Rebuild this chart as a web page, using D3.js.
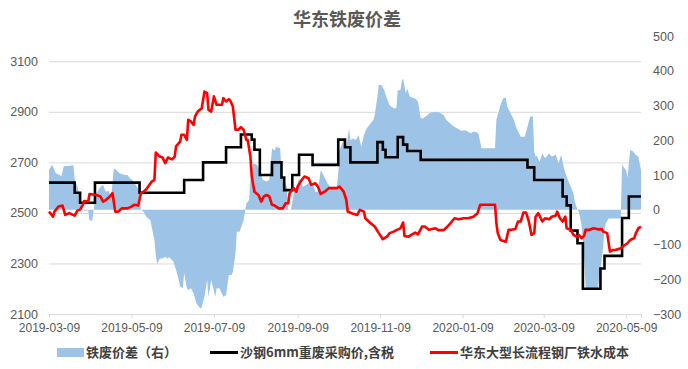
<!DOCTYPE html>
<html>
<head>
<meta charset="utf-8">
<script src="https://cdn.jsdelivr.net/npm/d3@7"></script>
<style>
    body { margin: 0; background: #fff; }
    svg { display: block; }
</style>
</head>
<body>
<svg id="chart" width="688" height="369"></svg>
<script>
// Chart text
const chartTitle = "华东铁废价差";
const legendLabels = ["铁废价差（右）", "沙钢6mm重废采购价,含税", "华东大型长流程钢厂铁水成本"];
const xTickLabels = ["2019-03-09", "2019-05-09", "2019-07-09", "2019-09-09", "2019-11-09", "2020-01-09", "2020-03-09", "2020-05-09"];
const leftTicks = [2100, 2300, 2500, 2700, 2900, 3100];
const rightTicks = [-300, -200, -100, 0, 100, 200, 300, 400, 500];
const xDomain = ["2019-03-09", "2020-05-20"];

// 铁废价差 (right axis)
const spread = [
    ["2019-03-09", 114], ["2019-03-11", 129], ["2019-03-12", 124], ["2019-03-14", 105], ["2019-03-17", 100],
    ["2019-03-18", 95], ["2019-03-20", 126], ["2019-03-24", 126], ["2019-03-27", 129], ["2019-03-28", 86],
    ["2019-03-30", 66], ["2019-04-01", 37], ["2019-04-02", 4], ["2019-04-04", -3], ["2019-04-07", -2],
    ["2019-04-08", -31], ["2019-04-10", -31], ["2019-04-12", 28], ["2019-04-13", 47], ["2019-04-16", 66],
    ["2019-04-18", 71], ["2019-04-20", 52], ["2019-04-22", 55], ["2019-04-24", 37], ["2019-04-26", 119],
    ["2019-04-28", 114], ["2019-04-30", 105], ["2019-05-04", 100], ["2019-05-06", 100], ["2019-05-08", 90],
    ["2019-05-10", 85], ["2019-05-13", 66], ["2019-05-15", 57], ["2019-05-16", 0], ["2019-05-18", -6],
    ["2019-05-20", -20], ["2019-05-23", -30], ["2019-05-24", -49], ["2019-05-26", -87], ["2019-05-27", -130],
    ["2019-05-28", -156], ["2019-05-30", -140], ["2019-06-01", -140], ["2019-06-03", -135], ["2019-06-04", -140],
    ["2019-06-06", -137], ["2019-06-09", -149], ["2019-06-11", -173], ["2019-06-13", -202], ["2019-06-14", -221],
    ["2019-06-16", -226], ["2019-06-17", -183], ["2019-06-19", -226], ["2019-06-20", -231], ["2019-06-22", -226],
    ["2019-06-24", -240], ["2019-06-26", -269], ["2019-06-29", -284], ["2019-06-30", -280], ["2019-07-02", -250],
    ["2019-07-04", -202], ["2019-07-05", -250], ["2019-07-07", -202], ["2019-07-08", -217], ["2019-07-10", -250],
    ["2019-07-11", -226], ["2019-07-13", -226], ["2019-07-16", -250], ["2019-07-18", -245], ["2019-07-20", -188],
    ["2019-07-22", -188], ["2019-07-23", -180], ["2019-07-25", -125], ["2019-07-26", -63], ["2019-07-28", -63],
    ["2019-07-31", -30], ["2019-08-02", 18], ["2019-08-04", 28], ["2019-08-05", 86], ["2019-08-07", 134],
    ["2019-08-10", 129], ["2019-08-12", 114], ["2019-08-14", 86], ["2019-08-17", 81], ["2019-08-19", 86],
    ["2019-08-21", 177], ["2019-08-23", 170], ["2019-08-24", 181], ["2019-08-27", 177], ["2019-08-28", 114],
    ["2019-08-29", 95], ["2019-09-01", 66], ["2019-09-02", 0], ["2019-09-04", 0], ["2019-09-06", 47],
    ["2019-09-08", 66], ["2019-09-10", 90], ["2019-09-13", 66], ["2019-09-17", 76], ["2019-09-20", 76],
    ["2019-09-22", 52], ["2019-09-24", 52], ["2019-09-26", 114], ["2019-09-28", 100], ["2019-10-01", 76],
    ["2019-10-03", 66], ["2019-10-08", 66], ["2019-10-09", 105], ["2019-10-10", 172], ["2019-10-13", 201],
    ["2019-10-15", 181], ["2019-10-17", 234], ["2019-10-18", 201], ["2019-10-20", 205], ["2019-10-22", 201],
    ["2019-10-24", 215], ["2019-10-26", 181], ["2019-10-28", 215], ["2019-10-30", 234], ["2019-11-01", 244],
    ["2019-11-04", 258], ["2019-11-05", 273], ["2019-11-07", 325], ["2019-11-08", 359], ["2019-11-10", 359],
    ["2019-11-12", 344], ["2019-11-14", 320], ["2019-11-16", 301], ["2019-11-19", 292], ["2019-11-21", 292],
    ["2019-11-22", 344], ["2019-11-24", 344], ["2019-11-25", 369], ["2019-11-26", 378], ["2019-11-28", 335],
    ["2019-11-29", 349], ["2019-12-01", 325], ["2019-12-05", 320], ["2019-12-07", 311], ["2019-12-09", 263],
    ["2019-12-11", 263], ["2019-12-14", 273], ["2019-12-16", 279], ["2019-12-20", 282], ["2019-12-23", 280],
    ["2019-12-26", 273], ["2019-12-28", 258], ["2020-01-01", 244], ["2020-01-05", 234], ["2020-01-08", 227],
    ["2020-01-11", 229], ["2020-01-15", 220], ["2020-01-17", 225], ["2020-01-20", 222], ["2020-01-21", 215],
    ["2020-01-23", 177], ["2020-02-02", 177], ["2020-02-03", 258], ["2020-02-06", 301], ["2020-02-08", 320],
    ["2020-02-10", 323], ["2020-02-11", 297], ["2020-02-13", 282], ["2020-02-16", 258], ["2020-02-18", 234],
    ["2020-02-21", 210], ["2020-02-24", 210], ["2020-02-26", 239], ["2020-02-28", 268], ["2020-03-01", 268],
    ["2020-03-02", 167], ["2020-03-03", 153], ["2020-03-04", 155], ["2020-03-06", 138], ["2020-03-08", 162],
    ["2020-03-10", 148], ["2020-03-13", 162], ["2020-03-15", 153], ["2020-03-18", 158], ["2020-03-20", 134],
    ["2020-03-22", 158], ["2020-03-24", 119], ["2020-03-26", 95], ["2020-03-29", 66], ["2020-03-31", 47],
    ["2020-04-01", 23], ["2020-04-03", 0], ["2020-04-04", -6], ["2020-04-06", -44], ["2020-04-08", -145],
    ["2020-04-09", -221], ["2020-04-10", -231], ["2020-04-18", -231], ["2020-04-20", -173], ["2020-04-22", -106],
    ["2020-04-23", -58], ["2020-04-24", -39], ["2020-04-26", -25], ["2020-05-05", -25], ["2020-05-06", 129],
    ["2020-05-09", 114], ["2020-05-10", 92], ["2020-05-12", 172], ["2020-05-14", 168], ["2020-05-16", 158],
    ["2020-05-18", 153], ["2020-05-20", 114]
];

// 沙钢6mm重废采购价,含税 (left axis, step changes)
const scrapPrice = [
    ["2019-03-09", 2620], ["2019-03-28", 2580], ["2019-04-01", 2540], ["2019-04-12", 2620], ["2019-05-15", 2580],
    ["2019-06-17", 2630], ["2019-07-01", 2700], ["2019-07-18", 2760], ["2019-07-29", 2810], ["2019-08-06", 2790],
    ["2019-08-08", 2750], ["2019-08-12", 2650], ["2019-08-21", 2700], ["2019-08-28", 2640], ["2019-08-30", 2590],
    ["2019-09-05", 2650], ["2019-09-10", 2730], ["2019-09-20", 2690], ["2019-10-09", 2790], ["2019-10-14", 2760],
    ["2019-10-18", 2700], ["2019-11-07", 2780], ["2019-11-11", 2750], ["2019-11-13", 2720], ["2019-11-22", 2800],
    ["2019-11-26", 2770], ["2019-11-29", 2745], ["2019-12-09", 2710], ["2020-02-26", 2680], ["2020-03-02", 2630],
    ["2020-03-23", 2565], ["2020-03-26", 2530], ["2020-03-29", 2430], ["2020-04-03", 2380], ["2020-04-07", 2200],
    ["2020-04-20", 2280], ["2020-04-23", 2330], ["2020-05-06", 2480], ["2020-05-11", 2565], ["2020-05-20", 2565]
];

// 华东大型长流程钢厂铁水成本 (left axis)
const hotMetalCost = [
    ["2019-03-09", 2505], ["2019-03-12", 2485], ["2019-03-13", 2505], ["2019-03-16", 2525], ["2019-03-19", 2529],
    ["2019-03-21", 2492], ["2019-03-24", 2499], ["2019-03-28", 2489], ["2019-03-30", 2509], ["2019-04-01", 2513],
    ["2019-04-03", 2532], ["2019-04-04", 2547], ["2019-04-07", 2545], ["2019-04-08", 2575], ["2019-04-13", 2571],
    ["2019-04-16", 2565], ["2019-04-18", 2545], ["2019-04-20", 2551], ["2019-04-23", 2565], ["2019-04-25", 2578],
    ["2019-04-27", 2505], ["2019-04-29", 2505], ["2019-05-02", 2518], ["2019-05-06", 2518], ["2019-05-09", 2525],
    ["2019-05-11", 2532], ["2019-05-14", 2529], ["2019-05-16", 2578], ["2019-05-18", 2584], ["2019-05-20", 2594],
    ["2019-05-24", 2624], ["2019-05-26", 2631], ["2019-05-27", 2739], ["2019-05-30", 2723], ["2019-06-01", 2719],
    ["2019-06-03", 2697], ["2019-06-05", 2719], ["2019-06-08", 2712], ["2019-06-10", 2723], ["2019-06-11", 2763],
    ["2019-06-14", 2782], ["2019-06-15", 2809], ["2019-06-17", 2809], ["2019-06-19", 2789], ["2019-06-20", 2868],
    ["2019-06-22", 2862], ["2019-06-24", 2848], ["2019-06-25", 2881], ["2019-06-27", 2901], ["2019-06-30", 2914],
    ["2019-07-02", 2980], ["2019-07-04", 2974], ["2019-07-05", 2908], ["2019-07-07", 2901], ["2019-07-09", 2961],
    ["2019-07-11", 2928], ["2019-07-15", 2928], ["2019-07-16", 2954], ["2019-07-18", 2941], ["2019-07-20", 2950],
    ["2019-07-21", 2946], ["2019-07-23", 2921], ["2019-07-25", 2829], ["2019-07-27", 2829], ["2019-07-29", 2839],
    ["2019-07-31", 2829], ["2019-08-02", 2789], ["2019-08-03", 2789], ["2019-08-05", 2723], ["2019-08-06", 2644],
    ["2019-08-08", 2584], ["2019-08-11", 2571], ["2019-08-13", 2545], ["2019-08-15", 2565], ["2019-08-17", 2571],
    ["2019-08-19", 2565], ["2019-08-21", 2532], ["2019-08-23", 2529], ["2019-08-26", 2518], ["2019-08-29", 2518],
    ["2019-08-31", 2538], ["2019-09-02", 2538], ["2019-09-03", 2578], ["2019-09-06", 2598], ["2019-09-08", 2584],
    ["2019-09-09", 2604], ["2019-09-12", 2631], ["2019-09-14", 2644], ["2019-09-17", 2637], ["2019-09-19", 2611],
    ["2019-09-22", 2617], ["2019-09-24", 2604], ["2019-09-26", 2575], ["2019-09-29", 2584], ["2019-10-02", 2598],
    ["2019-10-08", 2598], ["2019-10-10", 2604], ["2019-10-13", 2584], ["2019-10-15", 2551], ["2019-10-16", 2505],
    ["2019-10-19", 2499], ["2019-10-23", 2492], ["2019-10-25", 2512], ["2019-10-28", 2505], ["2019-10-29", 2479],
    ["2019-11-02", 2459], ["2019-11-05", 2446], ["2019-11-08", 2420], ["2019-11-11", 2396], ["2019-11-14", 2406],
    ["2019-11-16", 2420], ["2019-11-19", 2426], ["2019-11-21", 2432], ["2019-11-24", 2439], ["2019-11-26", 2462],
    ["2019-11-27", 2409], ["2019-11-30", 2406], ["2019-12-02", 2413], ["2019-12-05", 2422], ["2019-12-07", 2415],
    ["2019-12-10", 2446], ["2019-12-12", 2446], ["2019-12-15", 2433], ["2019-12-20", 2439], ["2019-12-22", 2432],
    ["2019-12-26", 2432], ["2019-12-28", 2442], ["2019-12-31", 2459], ["2020-01-03", 2479], ["2020-01-06", 2475],
    ["2020-01-10", 2479], ["2020-01-13", 2479], ["2020-01-17", 2485], ["2020-01-20", 2499], ["2020-01-22", 2532],
    ["2020-02-02", 2532], ["2020-02-03", 2460], ["2020-02-04", 2420], ["2020-02-06", 2393], ["2020-02-10", 2386],
    ["2020-02-12", 2433], ["2020-02-14", 2433], ["2020-02-17", 2436], ["2020-02-19", 2466], ["2020-02-21", 2466],
    ["2020-02-23", 2501], ["2020-02-25", 2501], ["2020-02-27", 2466], ["2020-02-29", 2413], ["2020-03-02", 2420],
    ["2020-03-03", 2485], ["2020-03-05", 2499], ["2020-03-08", 2466], ["2020-03-10", 2479], ["2020-03-13", 2475],
    ["2020-03-15", 2485], ["2020-03-18", 2490], ["2020-03-19", 2505], ["2020-03-21", 2479], ["2020-03-23", 2466],
    ["2020-03-25", 2485], ["2020-03-26", 2439], ["2020-03-29", 2433], ["2020-03-31", 2413], ["2020-04-03", 2404],
    ["2020-04-04", 2413], ["2020-04-06", 2400], ["2020-04-08", 2410], ["2020-04-09", 2433], ["2020-04-12", 2433],
    ["2020-04-15", 2439], ["2020-04-18", 2435], ["2020-04-21", 2436], ["2020-04-22", 2426], ["2020-04-25", 2420],
    ["2020-04-27", 2347], ["2020-04-29", 2353], ["2020-05-01", 2353], ["2020-05-05", 2360], ["2020-05-07", 2369],
    ["2020-05-10", 2380], ["2020-05-12", 2393], ["2020-05-15", 2400], ["2020-05-16", 2417], ["2020-05-18", 2439],
    ["2020-05-20", 2446]
];

class spreadChart {

    constructor(parentElement) {
        this.parentElement = parentElement;
        this.initVis();
    }

    initVis() {
        let vis = this;
        let parse = d3.utcParse("%Y-%m-%d");

        vis.margin = {top: 36, right: 47, bottom: 55, left: 49};
        vis.width = 688 - vis.margin.left - vis.margin.right;
        vis.height = 369 - vis.margin.top - vis.margin.bottom;

        vis.svg = d3.select("#" + vis.parentElement);
        vis.g = vis.svg.append("g")
            .attr("transform", `translate(${vis.margin.left}, ${vis.margin.top})`);

        vis.x = d3.scaleUtc()
            .domain(xDomain.map(parse))
            .range([0, vis.width]);
        vis.yLeft = d3.scaleLinear()
            .domain([2100, 3200])
            .range([vis.height, 0]);
        vis.yRight = d3.scaleLinear()
            .domain([-300, 500])
            .range([vis.height, 0]);

        vis.spread = spread.map(d => ({date: parse(d[0]), value: d[1]}));
        vis.scrap = scrapPrice.map(d => ({date: parse(d[0]), value: d[1]}));
        vis.cost = hotMetalCost.map(d => ({date: parse(d[0]), value: d[1]}));

        let font = "'Noto Sans CJK SC', 'Microsoft YaHei', sans-serif";
        let tickFont = "'Liberation Sans', Arial, sans-serif";

        // Title
        vis.svg.append("text")
            .text(chartTitle)
            .attr("x", 347)
            .attr("y", 26)
            .attr("text-anchor", "middle")
            .attr("font-family", font)
            .attr("font-weight", "bold")
            .attr("font-size", "18px")
            .attr("fill", "#595959");

        // Gridlines (left axis)
        vis.g.append("g")
            .attr("class", "grid")
            .call(d3.axisLeft(vis.yLeft).tickValues(leftTicks).tickSize(-vis.width).tickFormat(""))
            .call(g => g.select(".domain").remove())
            .call(g => g.selectAll("line").attr("stroke", "#d9d9d9").attr("stroke-width", 1));

        // Left labels
        vis.g.append("g")
            .call(d3.axisLeft(vis.yLeft).tickValues(leftTicks).tickSize(0).tickPadding(11).tickFormat(d3.format("d")))
            .call(g => g.select(".domain").remove())
            .call(g => g.selectAll("text")
                .attr("font-family", tickFont)
                .attr("font-size", "12.5px")
                .attr("fill", "#595959"));

        // Right labels
        vis.g.append("g")
            .attr("transform", `translate(${vis.width}, 0)`)
            .call(d3.axisRight(vis.yRight).tickValues(rightTicks).tickSize(0).tickPadding(12).tickFormat(d3.format("d")))
            .call(g => g.select(".domain").remove())
            .call(g => g.selectAll("text")
                .attr("font-family", tickFont)
                .attr("font-size", "12.5px")
                .attr("fill", "#595959"));

        // Spread area
        let area = d3.area()
            .x(d => vis.x(d.date))
            .y0(vis.yRight(0))
            .y1(d => vis.yRight(d.value));
        vis.g.append("path")
            .datum(vis.spread)
            .attr("d", area)
            .attr("fill", "#9dc3e6");

        // X axis
        vis.g.append("g")
            .attr("transform", `translate(0, ${vis.height})`)
            .call(d3.axisBottom(vis.x).tickValues(xTickLabels.map(parse)).tickSize(4).tickPadding(5)
                .tickFormat(d3.utcFormat("%Y-%m-%d")))
            .call(g => g.select(".domain").attr("stroke", "#d9d9d9"))
            .call(g => g.selectAll("line").attr("stroke", "#d9d9d9"))
            .call(g => g.selectAll("text")
                .attr("font-family", tickFont)
                .attr("font-size", "12px")
                .attr("fill", "#595959"));

        // Scrap price line
        let stepLine = d3.line()
            .x(d => vis.x(d.date))
            .y(d => vis.yLeft(d.value))
            .curve(d3.curveStepAfter);
        vis.g.append("path")
            .datum(vis.scrap)
            .attr("d", stepLine)
            .attr("fill", "none")
            .attr("stroke", "#000000")
            .attr("stroke-width", 2.6);

        // Hot metal cost line
        let line = d3.line()
            .x(d => vis.x(d.date))
            .y(d => vis.yLeft(d.value));
        vis.g.append("path")
            .datum(vis.cost)
            .attr("d", line)
            .attr("fill", "none")
            .attr("stroke", "#ff0000")
            .attr("stroke-width", 2.6)
            .attr("stroke-linejoin", "round");

        // Legend
        let legendX = [57, 210, 430];
        let legend = vis.svg.append("g").attr("class", "legend");
        legend.append("rect")
            .attr("x", legendX[0])
            .attr("y", 348)
            .attr("width", 27)
            .attr("height", 9)
            .attr("fill", "#9dc3e6");
        legend.append("line")
            .attr("x1", legendX[1]).attr("x2", legendX[1] + 28)
            .attr("y1", 352.5).attr("y2", 352.5)
            .attr("stroke", "#000000")
            .attr("stroke-width", 3);
        legend.append("line")
            .attr("x1", legendX[2]).attr("x2", legendX[2] + 28)
            .attr("y1", 352.5).attr("y2", 352.5)
            .attr("stroke", "#ff0000")
            .attr("stroke-width", 3);
        legend.selectAll(".legend-label")
            .data(legendLabels)
            .enter().append("text")
            .attr("class", "legend-label")
            .attr("x", (d, i) => legendX[i] + (i === 0 ? 29 : 30))
            .attr("y", 357)
            .attr("font-family", font)
            .attr("font-weight", "bold")
            .attr("font-size", "13px")
            .attr("fill", "#404040")
            .text(d => d);
    }
}

let chart = new spreadChart("chart");
</script>
</body>
</html>
